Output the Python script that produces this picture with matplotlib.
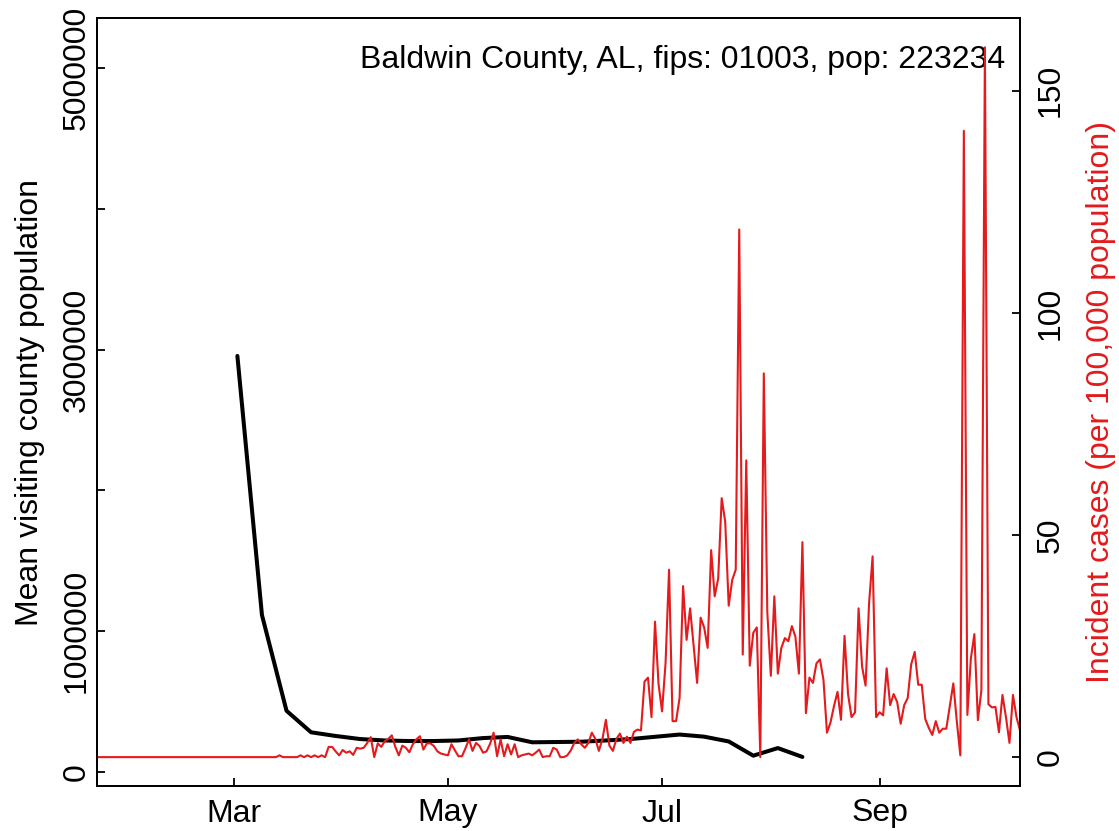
import numpy as np
import pandas as pd
import matplotlib
matplotlib.use("Agg")
import matplotlib.pyplot as plt

plt.rcParams['font.family'] = ['Liberation Sans', 'DejaVu Sans']

county_label = "Baldwin County, AL, fips: 01003, pop: 223234"
red = "#E41A1C"

# weekly mean visiting county population, weeks starting Monday 2020-03-02
visit_start = "2020-03-02"
visit_values = [2955000, 1115000, 435000, 282000, 256000, 234000, 224000, 220000,
                220000, 224000, 241000, 249000, 211000, 213000, 215000, 224000,
                234000, 250000, 266000, 251000, 217000, 116000, 170000, 107000]

# daily incident cases per 100,000, from 2020-01-22 to 2020-10-11
case_start = "2020-01-22"
cases_jan_feb = [0, 0, 0, 0, 0, 0, 0, 0, 0, 0,
                 0, 0, 0, 0, 0, 0, 0, 0, 0, 0,
                 0, 0, 0, 0, 0, 0, 0, 0, 0, 0,
                 0, 0, 0, 0, 0, 0, 0, 0, 0]
cases_mar_oct = [0, 0, 0, 0, 0, 0, 0, 0, 0, 0,
                 0, 0, 0, 0.4, 0, 0, 0, 0, 0, 0.4,
                 0, 0.4, 0, 0.4, 0, 0.4, 0, 2.3, 2.3, 1.3,
                 0.4, 1.6, 1.0, 1.3, 0.5, 2.1, 1.9, 2.1, 3.2, 4.5,
                 0, 3.1, 2.3, 3.6, 4.1, 4.9, 2.3, 0.4, 2.6, 2.1,
                 1.1, 2.9, 4.0, 4.7, 1.7, 3.1, 3.1, 2.5, 1.3, 0.8,
                 0.6, 0.4, 2.9, 1.5, 0.2, 0.2, 2.0, 4.0, 1.4, 3.2,
                 2.5, 1.0, 1.3, 3.0, 5.5, 0.2, 4.0, 0.2, 2.9, 0.6,
                 2.9, 0, 0.4, 0.6, 0.8, 0.4, 1.0, 1.7, 0, 0.2,
                 0.2, 2.1, 1.7, 0, 0, 0.4, 1.5, 3.2, 4.0, 2.9,
                 2.1, 3.2, 5.5, 4.1, 1.4, 4.0, 8.4, 2.6, 1.4, 4.1,
                 5.3, 3.2, 4.6, 3.2, 5.7, 6.2, 6.0, 17.0, 17.9, 9.0,
                 30.5, 16.5, 10.3, 21.1, 42.2, 8.1, 8.1, 13.3, 38.5, 26.4,
                 33.5, 25.2, 16.7, 31.4, 29.2, 24.6, 46.6, 36.2, 40.2, 58.3,
                 53.0, 34.1, 39.9, 42.2, 118.8, 23.1, 66.8, 20.6, 28.0, 29.2,
                 0, 86.4, 32.6, 18.3, 36.2, 18.8, 24.6, 26.8, 26.1, 29.5,
                 27.1, 18.8, 48.4, 9.9, 17.9, 16.7, 21.1, 22.0, 17.4, 5.5,
                 7.8, 11.5, 14.7, 8.4, 27.3, 14.2, 9.0, 10.1, 33.5, 20.4,
                 16.1, 34.7, 45.2, 9.0, 10.1, 9.4, 20.0, 11.7, 14.2, 12.4,
                 7.5, 11.7, 13.3, 20.9, 23.7, 16.3, 16.3, 8.6, 6.6, 5.0,
                 8.1, 5.5, 6.4, 6.4, 11.5, 16.6, 8.0, 0.4, 141.0, 9.5,
                 22.2, 27.7, 8.3, 15.1, 159.8, 11.9, 11.2, 11.3, 5.6, 14.0,
                 9.0, 3.2, 14.0, 9.0, 6.0]

month_ticks = ["2020-03-01", "2020-05-01", "2020-07-01", "2020-09-01"]
month_labels = ["Mar", "May", "Jul", "Sep"]
left_ticks = [0, 1000000, 2000000, 3000000, 4000000, 5000000]
left_labels = ["0", "1000000", "", "3000000", "", "5000000"]
right_ticks = [0, 50, 100, 150]


def main():
    visit_dates = pd.date_range(visit_start, periods=len(visit_values), freq="7D")
    case_values = cases_jan_feb + cases_mar_oct
    case_dates = pd.date_range(case_start, periods=len(case_values), freq="D")

    fig = plt.figure(figsize=(11.19, 8.31), dpi=100)
    ax = fig.add_axes([97 / 1119, 1 - 786 / 831, 923 / 1119, 768 / 831])
    ax2 = ax.twinx()

    ax.plot(visit_dates, visit_values, color="black", lw=2.9,
            solid_capstyle="round", solid_joinstyle="round")
    ax2.plot(case_dates, case_values, color=red, lw=1.5)

    ax.set_xlim(pd.Timestamp("2020-01-22"), pd.Timestamp("2020-10-11"))
    ax.set_ylim(-99400, 5355000)
    ax2.set_ylim(-6.5, 166.4)

    ax.set_xticks(pd.to_datetime(month_ticks))
    ax.set_xticklabels(month_labels)
    ax.set_yticks(left_ticks)
    ax.set_yticklabels(left_labels, rotation=90, va="center")
    ax2.set_yticks(right_ticks)
    ax2.set_yticklabels([str(t) for t in right_ticks], rotation=90, va="center")

    ax.tick_params(axis="x", direction="in", length=6, width=1.3, labelsize=23, pad=9)
    ax.tick_params(axis="y", direction="in", length=6, width=1.3, labelsize=23, pad=4)
    ax2.tick_params(axis="y", direction="in", length=6, width=1.3, labelsize=23, pad=11)
    for sp in ax.spines.values():
        sp.set_linewidth(1.3)
    for sp in ax2.spines.values():
        sp.set_linewidth(1.3)

    ax.set_ylabel("Mean visiting county population", fontsize=23, labelpad=12)
    ax2.set_ylabel("Incident cases (per 100,000 population)", fontsize=23,
                   color=red, labelpad=15)

    ax.text(0.984, 0.945, county_label, transform=ax.transAxes, ha="right",
            va="center", fontsize=23)

    fig.savefig("out.png", dpi=100)


if __name__ == '__main__':
    main()
